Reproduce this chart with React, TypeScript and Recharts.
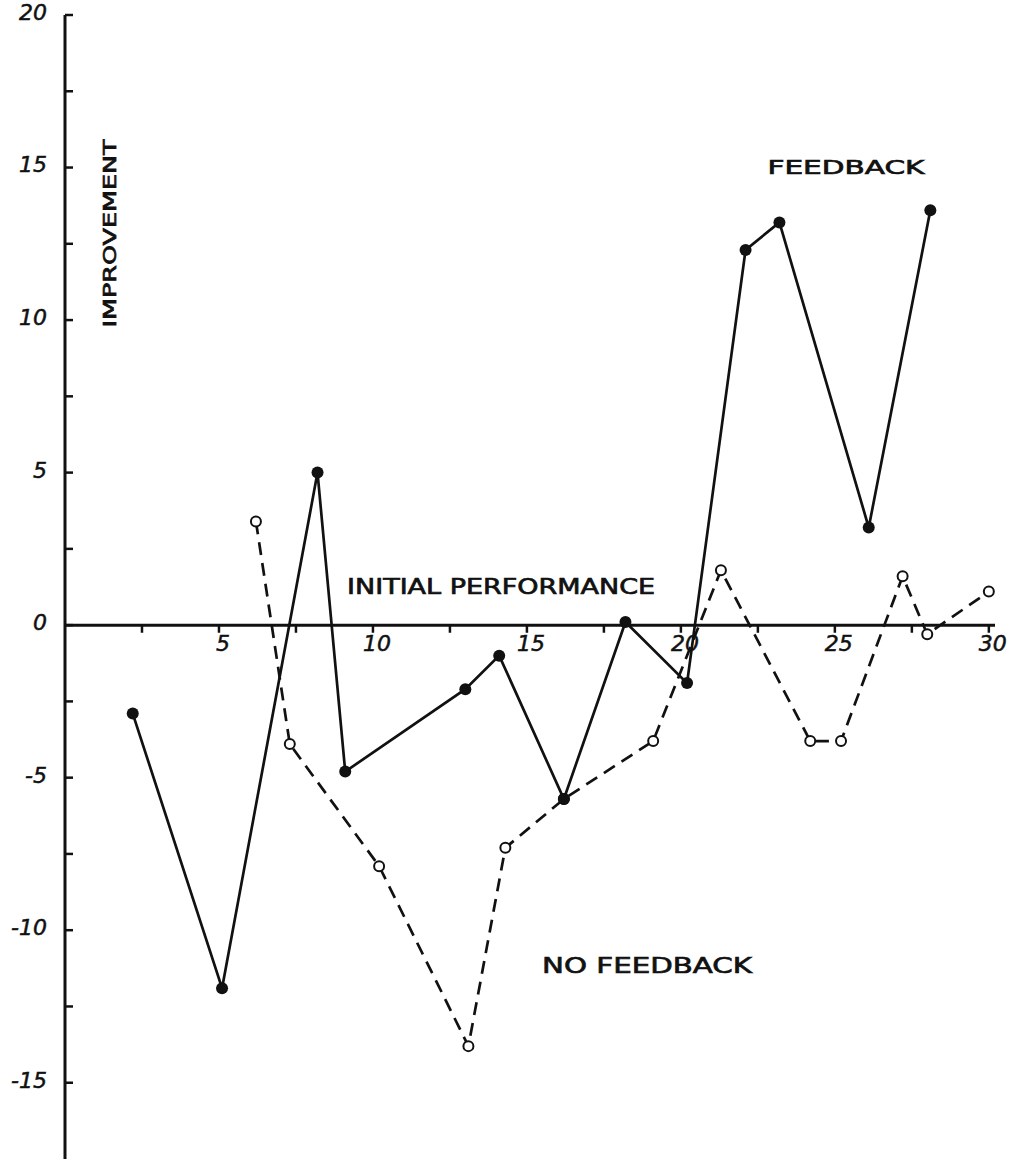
import { LineChart, Line, XAxis, YAxis, ReferenceLine, ReferenceDot } from 'recharts'

// values
const feedbackX = [2.2, 5.1, 8.2, 9.1, 13.0, 14.1, 16.2, 18.2, 20.2, 22.1, 23.2, 26.1, 28.1]
const feedbackY = [-2.9, -11.9, 5.0, -4.8, -2.1, -1.0, -5.7, 0.1, -1.9, 12.3, 13.2, 3.2, 13.6]

const noFeedbackX = [6.2, 7.3, 10.2, 13.1, 14.3, 16.2, 19.1, 21.3, 24.2, 25.2, 27.2, 28.0, 30.0]
const noFeedbackY = [3.4, -3.9, -7.9, -13.8, -7.3, -5.7, -3.8, 1.8, -3.8, -3.8, 1.6, -0.3, 1.1]

const xTicks = [2.5, 5, 7.5, 10, 12.5, 15, 17.5, 20, 22.5, 25, 27.5, 30]
const yTicks = [-15, -12.5, -10, -7.5, -5, -2.5, 0, 2.5, 5, 7.5, 10, 12.5, 15, 17.5, 20]

const feedback = feedbackX.map((x, i) => ({ x, y: feedbackY[i] }))
const noFeedback = noFeedbackX.map((x, i) => ({ x, y: noFeedbackY[i] }))

const FONT = '"DejaVu Sans", sans-serif'
const INK = '#111'

function YTick(props: any) {
  const { x, y, payload } = props
  const v = payload.value
  return (
    <g>
      <line x1={x} y1={y} x2={x + 8} y2={y} stroke={INK} strokeWidth={2.5} />
      {v % 5 === 0 && (
        <text
          x={x - 18}
          y={y - 3}
          dy="0.36em"
          textAnchor="end"
          fontSize={22}
          fontStyle="italic"
          fontFamily={FONT}
          fill={INK}
          stroke={INK}
          strokeWidth={0.5}
        >
          {v < 0 ? `-${Math.abs(v)}` : v}
        </text>
      )}
    </g>
  )
}

function note(text: string, width: number, size: number, rotate = false) {
  return (props: any) => {
    const vb = props.viewBox || {}
    const cx = vb.x + (vb.width || 0) / 2
    const cy = vb.y + (vb.height || 0) / 2
    return (
      <text
        x={cx}
        y={cy}
        dy="0.36em"
        textAnchor="middle"
        fontSize={size}
        fontFamily={FONT}
        fill={INK}
        stroke={INK}
        strokeWidth={0.7}
        textLength={width}
        lengthAdjust="spacingAndGlyphs"
        transform={rotate ? `rotate(-90 ${cx} ${cy})` : undefined}
      >
        {text}
      </text>
    )
  }
}

export default function App() {
  return (
    <div style={{ position: 'absolute', left: 0, top: 0, width: 1015, height: 1159, background: '#fff' }}>
      <LineChart width={1015} height={1159} margin={{ top: 15, right: 20, bottom: 0, left: 0 }}>
        <XAxis type="number" dataKey="x" domain={[0, 30.2]} allowDataOverflow hide />
        <YAxis
          type="number"
          domain={[-17.5, 20]}
          allowDataOverflow
          ticks={yTicks}
          interval={0}
          width={65}
          tickSize={0}
          tickMargin={0}
          tickLine={false}
          axisLine={{ stroke: INK, strokeWidth: 3 }}
          tick={<YTick />}
        />

        <ReferenceLine y={0} stroke={INK} strokeWidth={3} />
        {xTicks.map((t) => (
          <ReferenceLine
            key={t}
            segment={[{ x: t, y: 0 }, { x: t, y: -0.25 }]}
            stroke={INK}
            strokeWidth={2.5}
            label={
              t % 5 === 0
                ? {
                    value: String(t),
                    position: 'bottom',
                    offset: 3,
                    dx: 4,
                    fontSize: 22,
                    fontStyle: 'italic',
                    fontFamily: FONT,
                    fill: INK,
                    stroke: INK,
                    strokeWidth: 0.5,
                  }
                : undefined
            }
          />
        ))}

        <ReferenceDot x={1.46} y={12.84} r={0} fill="none" stroke="none" label={{ content: note('IMPROVEMENT', 188, 18, true) }} />
        <ReferenceDot x={25.36} y={15.03} r={0} fill="none" stroke="none" label={{ content: note('FEEDBACK', 157, 20) }} />
        <ReferenceDot x={14.16} y={1.26} r={0} fill="none" stroke="none" label={{ content: note('INITIAL PERFORMANCE', 308, 21) }} />
        <ReferenceDot x={18.9} y={-11.13} r={0} fill="none" stroke="none" label={{ content: note('NO FEEDBACK', 210, 22) }} />

        <Line
          data={noFeedback}
          dataKey="y"
          type="linear"
          stroke={INK}
          strokeWidth={2.7}
          strokeDasharray="13 8"
          dot={{ r: 5, fill: '#fff', stroke: INK, strokeWidth: 2, strokeDasharray: 'none' }}
          isAnimationActive={false}
        />
        <Line
          data={feedback}
          dataKey="y"
          type="linear"
          stroke={INK}
          strokeWidth={2.7}
          dot={{ r: 6, fill: INK, stroke: INK, strokeWidth: 0 }}
          isAnimationActive={false}
        />
      </LineChart>
    </div>
  )
}
